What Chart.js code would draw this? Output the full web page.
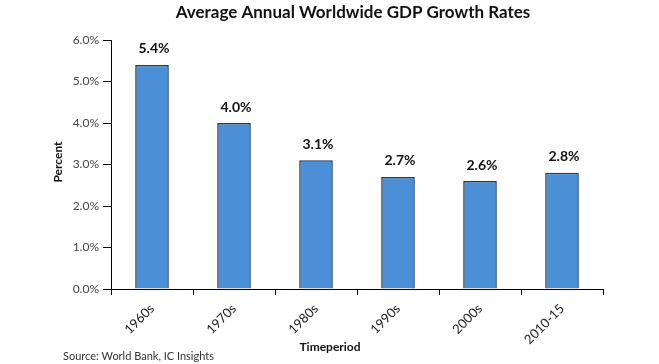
<!DOCTYPE html>
<html>
<head>
<meta charset="utf-8">
<script src="https://cdn.jsdelivr.net/npm/chart.js@4/dist/chart.umd.min.js"></script>
<style>
  html, body { margin: 0; padding: 0; background: #fff; }
  #wrap { width: 659px; height: 364px; position: relative; }
</style>
</head>
<body>
<div id="wrap"><canvas id="myChart"></canvas></div>
<script>
Chart.defaults.font.family = "Lato, 'Open Sans', sans-serif";

const periods = ["1960s", "1970s", "1980s", "1990s", "2000s", "2010-15"];
const growth = [5.4, 4.0, 3.1, 2.7, 2.6, 2.8];
const yTicks = [0, 1, 2, 3, 4, 5, 6];

const chartTitle = "Average Annual Worldwide GDP Growth Rates";
const xTitle = "Timeperiod";
const yTitle = "Percent";
const sourceNote = "Source: World Bank, IC Insights";

// titles, value labels and source line
const textPlugin = {
  id: "textPlugin",
  afterDatasetsDraw(chart) {
    const c = chart.ctx;
    c.save();
    c.fillStyle = "#111";
    c.textAlign = "center";
    c.textBaseline = "middle";

    c.font = "bold 17px Lato, sans-serif";
    c.fillText(chartTitle, 353, 13);

    c.font = "bold 14px Lato, sans-serif";
    const meta = chart.getDatasetMeta(0);
    meta.data.forEach(function (bar, i) {
      c.fillText(growth[i].toFixed(1) + "%", bar.x + 2, bar.y - 16);
    });

    c.font = "bold 12px Lato, sans-serif";
    c.fillText(xTitle, 330, 347);

    c.save();
    c.translate(58, 162);
    c.rotate(-Math.PI / 2);
    c.fillText(yTitle, 0, 0);
    c.restore();

    c.font = "11px Lato, sans-serif";
    c.fillStyle = "#333";
    c.textAlign = "left";
    c.fillText(sourceNote, 63, 356);
    c.restore();
  },
};

const ctx = document.getElementById("myChart").getContext("2d");
const myChart = new Chart(ctx, {
  type: "bar",
  data: {
    labels: periods,
    datasets: [
      {
        label: "Growth",
        data: growth,
        backgroundColor: "#4b90d6",
        borderColor: "#1d3a5c",
        borderWidth: 1.5,
        categoryPercentage: 1,
        barPercentage: 0.41,
      },
    ],
  },
  options: {
    responsive: true,
    maintainAspectRatio: false,
    animation: false,
    layout: {
      padding: { top: 40, right: 56, left: 0, bottom: 0 },
    },
    scales: {
      y: {
        min: 0,
        max: 6,
        afterFit: function (scale) {
          scale.width = 111;
        },
        afterBuildTicks: function (scale) {
          scale.ticks = yTicks.map(function (v) { return { value: v }; });
        },
        ticks: {
          color: "#444",
          font: { size: 12 },
          padding: 4,
          callback: function (value) {
            return value.toFixed(1) + "%";
          },
        },
        grid: {
          drawOnChartArea: false,
          color: "#000",
          tickLength: 8,
        },
        border: { color: "#000", width: 1 },
      },
      x: {
        afterFit: function (scale) {
          scale.height = 75;
        },
        ticks: {
          color: "#222",
          font: { size: 13 },
          minRotation: 45,
          maxRotation: 45,
          padding: 6,
        },
        grid: {
          offset: true,
          drawOnChartArea: false,
          color: "#000",
          tickLength: 6,
        },
        border: { color: "#000", width: 1 },
      },
    },
    plugins: {
      legend: { display: false },
      tooltip: { enabled: false },
    },
  },
  plugins: [textPlugin],
});
</script>
</body>
</html>
